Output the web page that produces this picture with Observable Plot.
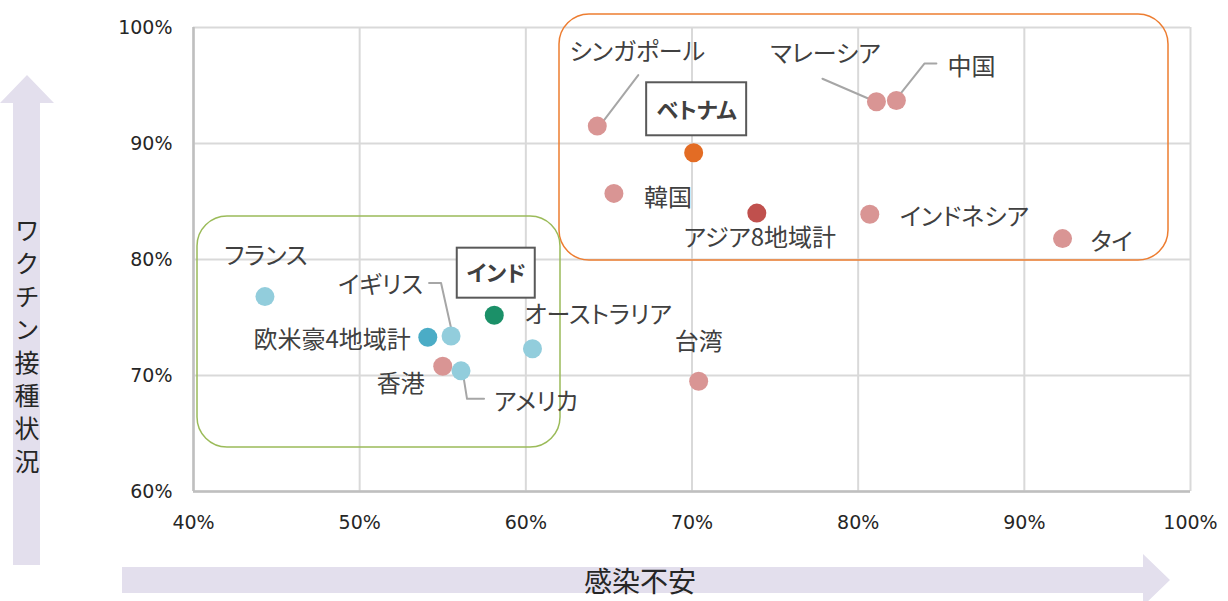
<!DOCTYPE html>
<html>
<head>
<meta charset="utf-8">
<script src="https://cdn.jsdelivr.net/npm/d3@7"></script>
<script src="https://cdn.jsdelivr.net/npm/@observablehq/plot@0.6"></script>
<style>
  html, body { margin: 0; padding: 0; background: #fff; }
  #wrap { position: relative; width: 1228px; height: 601px; overflow: hidden; font-family: "Noto Sans CJK JP", sans-serif; }
  .arrow { position: absolute; background: #e3dfed; }
  #vtext { position: absolute; left: 12px; top: 218px; height: 270px; width: 30px; writing-mode: vertical-rl; text-orientation: upright; font-size: 25px; letter-spacing: 8px; line-height: 30px; color: #262626; }
  #htext { position: absolute; left: 560px; width: 160px; top: 562px; text-align: center; font-size: 28px; line-height: 36px; color: #262626; }
  #chart { position: absolute; left: 0; top: 0; }
  #chart .lbl, #chart .lbl text { font-feature-settings: "palt"; }
</style>
</head>
<body>
<div id="wrap">
  <div class="arrow" style="left:0;top:75px;width:54px;height:490px;clip-path:polygon(50% 0, 100% 28px, 40px 28px, 40px 100%, 13px 100%, 13px 28px, 0 28px);"></div>
  <div class="arrow" style="left:122px;top:554px;width:1048px;height:52px;clip-path:polygon(0 13px, 1021px 13px, 1021px 0, 100% 26px, 1021px 100%, 1021px 39px, 0 39px);"></div>
  <div id="vtext"></div>
  <div id="htext"></div>
  <div id="chart"></div>
</div>
<script>
// ---- data ----
const names = ["シンガポール","ベトナム","韓国","アジア8地域計","マレーシア","中国","インドネシア","タイ","台湾","フランス","欧米豪4地域計","イギリス","インド","オーストラリア","香港","アメリカ"];
const infection = [0.643,0.701,0.653,0.739,0.811,0.823,0.807,0.923,0.704,0.443,0.541,0.555,0.581,0.604,0.550,0.561];
const vaccination = [0.915,0.892,0.857,0.840,0.936,0.937,0.839,0.818,0.695,0.768,0.733,0.734,0.752,0.723,0.708,0.704];
const groups = ["アジア","ベトナム","アジア","アジア計","アジア","アジア","アジア","アジア","アジア","欧米豪","欧米豪計","欧米豪","インド","欧米豪","アジア","欧米豪"];
const groupNames = ["アジア","アジア計","欧米豪","欧米豪計","ベトナム","インド"];
const groupColors = ["#d99594","#c0504d","#92cddc","#4bacc6","#e36c24","#1b9068"];
const xTicks = [0.4,0.5,0.6,0.7,0.8,0.9,1.0];
const yTicks = [0.6,0.7,0.8,0.9,1.0];
const xTitle = "感染不安";
const yTitle = "ワクチン接種状況";

const points = names.map((n, i) => ({name: n, x: infection[i], y: vaccination[i], group: groups[i]}));

// ---- layout (pixel offsets, not data) ----
const W = 1228, H = 601;
const M = {left: 193, right: 38, top: 27, bottom: 110};
const labelLayout = {
  "シンガポール": {dx: 40, dy: -74, anchor: "middle"},
  "ベトナム": {dx: 3, dy: -42, anchor: "middle", bold: true, box: [-47, 53, -70, -17]},
  "韓国": {dx: 54, dy: 5, anchor: "middle"},
  "アジア8地域計": {dx: 3, dy: 25, anchor: "middle"},
  "マレーシア": {dx: -51, dy: -47, anchor: "middle"},
  "中国": {dx: 75, dy: -33, anchor: "middle"},
  "インドネシア": {dx: 30, dy: 3, anchor: "start"},
  "タイ": {dx: 49, dy: 4, anchor: "middle"},
  "台湾": {dx: 0, dy: -39, anchor: "middle"},
  "フランス": {dx: 1, dy: -40, anchor: "middle"},
  "欧米豪4地域計": {dx: -17, dy: 3, anchor: "end"},
  "イギリス": {dx: -28, dy: -51, anchor: "end"},
  "インド": {dx: 2, dy: -41, anchor: "middle", bold: true, box: [-37, 41, -67, -17]},
  "オーストラリア": {dx: -8, dy: -34, anchor: "start"},
  "香港": {dx: -42, dy: 18, anchor: "middle"},
  "アメリカ": {dx: 33, dy: 31, anchor: "start"}
};
const leaders = {
  "シンガポール": [[3, -1], [41, -51]],
  "マレーシア": [[-3, -1], [-54, -23]],
  "中国": [[1, -3], [28, -37], [40, -37]],
  "イギリス": [[2, 1], [-10, -53], [-22, -53]],
  "アメリカ": [[2, 3], [6, 28], [23, 28]]
};
const groupBoxes = [
  {px: [559, 1168, 14, 260], stroke: "#ed7d31"},
  {px: [197, 560, 216, 447], stroke: "#9bbb59"}
];

const xScaleOpt = {type: "linear", domain: [0.4, 1.0], range: [M.left, W - M.right]};
const yScaleOpt = {type: "linear", domain: [0.6, 1.0], range: [H - M.bottom, M.top]};
const sx = Plot.scale({x: xScaleOpt});
const sy = Plot.scale({y: yScaleOpt});
const offX = (v, d) => sx.invert(sx.apply(v) + d);
const offY = (v, d) => sy.invert(sy.apply(v) + d);

const boxData = groupBoxes.map(b => ({x1: sx.invert(b.px[0]), x2: sx.invert(b.px[1]), y1: sy.invert(b.px[3]), y2: sy.invert(b.px[2]), stroke: b.stroke}));

const leaderData = [];
for (const [n, segs] of Object.entries(leaders)) {
  const p = points.find(d => d.name === n);
  segs.forEach(([dx, dy], k) => leaderData.push({name: n, k, x: offX(p.x, dx), y: offY(p.y, dy)}));
}

const labelBoxData = points.filter(p => labelLayout[p.name].box).map(p => {
  const b = labelLayout[p.name].box;
  return {x1: offX(p.x, b[0]), x2: offX(p.x, b[1]), y1: offY(p.y, b[3]), y2: offY(p.y, b[2])};
});

const labelMarks = points.map(p => {
  const L = labelLayout[p.name];
  return Plot.text([p], {
    x: "x", y: "y", text: "name", dx: L.dx, dy: L.dy, textAnchor: L.anchor,
    fontSize: L.bold ? 22 : 24, fontWeight: L.bold ? "bold" : "normal",
    fontFamily: "'Noto Sans CJK JP', sans-serif", fill: "#404040", className: "lbl"
  });
});

const chart = Plot.plot({
  width: W, height: H,
  marginLeft: M.left, marginRight: M.right, marginTop: M.top, marginBottom: M.bottom,
  style: {background: "transparent", fontFamily: "'DejaVu Sans', Verdana, sans-serif", fontSize: "19px", color: "#262626", overflow: "visible"},
  x: {...xScaleOpt, ticks: xTicks, tickFormat: d3.format(".0%"), tickSize: 0, tickPadding: 24, label: null},
  y: {...yScaleOpt, ticks: yTicks, tickFormat: d3.format(".0%"), tickSize: 0, tickPadding: 21, label: null},
  color: {domain: groupNames, range: groupColors},
  marks: [
    Plot.gridX(xTicks, {stroke: "#d9d9d9", strokeOpacity: 1, strokeWidth: 2}),
    Plot.gridY(yTicks, {stroke: "#d9d9d9", strokeOpacity: 1, strokeWidth: 2}),
    Plot.ruleX([0.4], {stroke: "#bfbfbf", strokeWidth: 2.5}),
    Plot.ruleY([0.6], {stroke: "#bfbfbf", strokeWidth: 2.5}),
    Plot.rect(boxData, {x1: "x1", x2: "x2", y1: "y1", y2: "y2", fill: "none", stroke: "stroke", strokeWidth: 1.5, rx: 30}),
    Plot.line(leaderData, {x: "x", y: "y", z: "name", stroke: "#a6a6a6", strokeWidth: 2}),
    Plot.dot(points, {x: "x", y: "y", r: 9.5, fill: "group", stroke: null}),
    Plot.rect(labelBoxData, {x1: "x1", x2: "x2", y1: "y1", y2: "y2", fill: "#fff", stroke: "#595959", strokeWidth: 2}),
    ...labelMarks
  ]
});
document.getElementById("chart").appendChild(chart);

document.getElementById("vtext").textContent = yTitle;
document.getElementById("htext").textContent = xTitle;
</script>
</body>
</html>
